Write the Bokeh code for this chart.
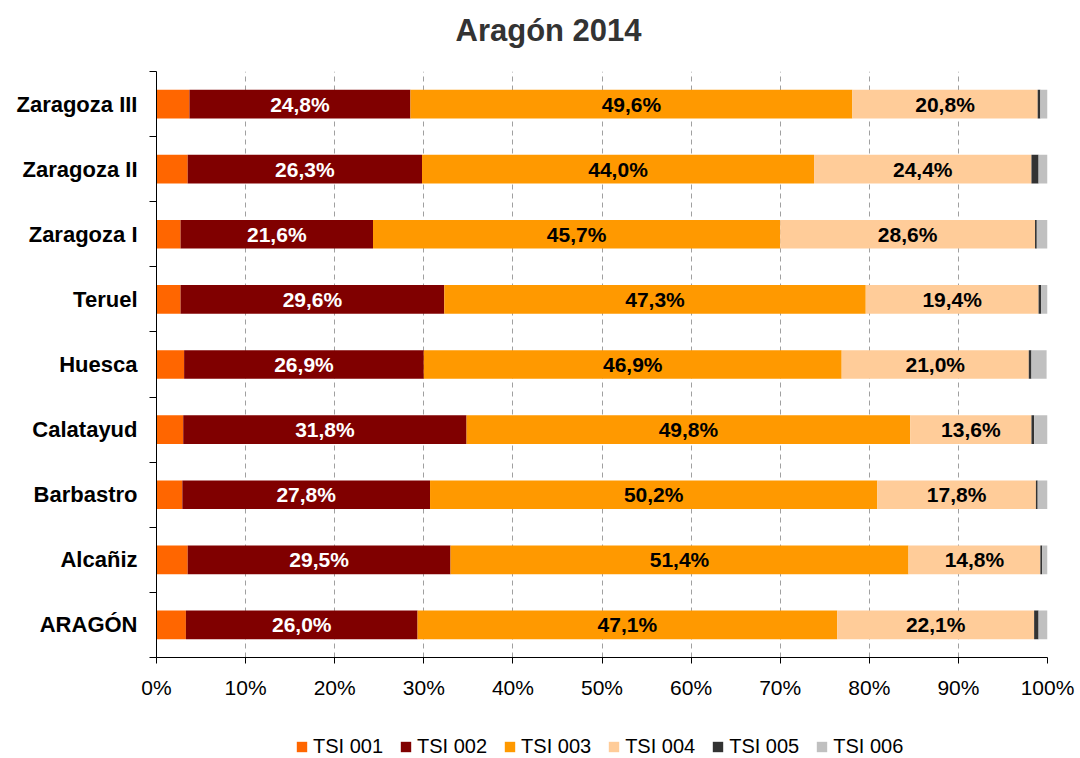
from bokeh.plotting import figure
from bokeh.layouts import column
from bokeh.models import (FixedTicker, PrintfTickFormatter, Legend, LegendItem,
                          ColumnDataSource, Range1d, Title)
from bokeh.embed import file_html
from bokeh.resources import INLINE
from bokeh.core.properties import value

regions = ["Zaragoza III", "Zaragoza II", "Zaragoza I", "Teruel", "Huesca",
           "Calatayud", "Barbastro", "Alcañiz", "ARAGÓN"]
tsi001 = [3.7, 3.5, 2.7, 2.7, 3.1, 3.0, 2.9, 3.5, 3.3]
tsi002 = [24.8, 26.3, 21.6, 29.6, 26.9, 31.8, 27.8, 29.5, 26.0]
tsi003 = [49.6, 44.0, 45.7, 47.3, 46.9, 49.8, 50.2, 51.4, 47.1]
tsi004 = [20.8, 24.4, 28.6, 19.4, 21.0, 13.6, 17.8, 14.8, 22.1]
tsi005 = [0.3, 0.8, 0.2, 0.3, 0.3, 0.3, 0.2, 0.2, 0.5]
tsi006 = [0.8, 1.0, 1.2, 0.7, 1.7, 1.5, 1.1, 0.6, 1.0]
series_names = ["TSI 001", "TSI 002", "TSI 003", "TSI 004", "TSI 005", "TSI 006"]
colors = ["#FF6600", "#800000", "#FF9900", "#FFCC99", "#333333", "#C0C0C0"]
x_ticks = list(range(0, 101, 10))
title_text = "Aragón 2014"

FONT = "Liberation Sans"
n = len(regions)
ys = [n - 1 - i for i in range(n)]
keys = ["s1", "s2", "s3", "s4", "s5", "s6"]
series = [tsi001, tsi002, tsi003, tsi004, tsi005, tsi006]
data = {"y": ys, "name": regions}
for k, s in zip(keys, series):
    data[k] = s


def fmt(v):
    return ("%.1f%%" % v).replace(".", ",")


data["mid2"] = [a + b / 2 for a, b in zip(tsi001, tsi002)]
data["mid3"] = [a + b + c / 2 for a, b, c in zip(tsi001, tsi002, tsi003)]
data["mid4"] = [a + b + c + d / 2 for a, b, c, d in zip(tsi001, tsi002, tsi003, tsi004)]
data["lab2"] = [fmt(v) for v in tsi002]
data["lab3"] = [fmt(v) for v in tsi003]
data["lab4"] = [fmt(v) for v in tsi004]
source = ColumnDataSource(data)

p = figure(frame_width=891, frame_height=586, output_backend="svg", toolbar_location=None,
           x_range=Range1d(0, 100), y_range=Range1d(-0.5, n - 0.5),
           min_border_left=156, min_border_right=33, min_border_top=71,
           min_border_bottom=44)
p.outline_line_color = None
p.background_fill_color = "white"
p.border_fill_color = "white"

renderers = p.hbar_stack(keys, y="y", height=0.44, color=colors, line_color=None,
                         source=source)

for col_x, col_t, tc in [("mid2", "lab2", "white"), ("mid3", "lab3", "black"),
                         ("mid4", "lab4", "black")]:
    p.text(x=col_x, y="y", text=col_t, source=source, text_align="center",
           text_baseline="middle", text_color=tc, text_font=value(FONT),
           text_font_style="bold", text_font_size="21px")

# x axis
p.xaxis.ticker = FixedTicker(ticks=x_ticks)
p.xaxis.formatter = PrintfTickFormatter(format="%d%%")
p.xaxis.major_label_text_font = FONT
p.xaxis.major_label_text_font_size = "21px"
p.xaxis.major_label_text_color = "black"
p.xaxis.major_tick_in = 0
p.xaxis.major_tick_out = 6
p.xaxis.minor_tick_line_color = None
p.xaxis.axis_line_color = "black"
p.xaxis.major_tick_line_color = "black"
p.xaxis.major_label_standoff = 12

p.xgrid.ticker = FixedTicker(ticks=x_ticks)
p.xgrid.grid_line_color = "#a0a0a0"
p.xgrid.grid_line_dash = "5 4"
p.ygrid.grid_line_color = None

# y axis
bounds = [i - 0.5 for i in range(n + 1)]
p.yaxis.ticker = FixedTicker(ticks=ys, minor_ticks=bounds)
p.yaxis.major_label_overrides = {y: name for y, name in zip(ys, regions)}
p.yaxis.major_label_text_font = FONT
p.yaxis.major_label_text_font_style = "bold"
p.yaxis.major_label_text_font_size = "22px"
p.yaxis.major_label_text_color = "black"
p.yaxis.major_tick_line_color = None
p.yaxis.major_tick_in = 0
p.yaxis.major_tick_out = 0
p.yaxis.minor_tick_in = 0
p.yaxis.minor_tick_out = 7
p.yaxis.minor_tick_line_color = "black"
p.yaxis.axis_line_color = "black"
p.yaxis.major_label_standoff = 12

# title (spacer first: the first "above" item sits closest to the frame)
p.add_layout(Title(text=" ", text_font_size="1px", standoff=20), "above")
p.add_layout(Title(text=title_text, align="left", offset=299, vertical_align="middle",
                   standoff=0, text_font=FONT, text_font_style="bold",
                   text_font_size="31px", text_color="#333333"), "above")

# legend strip: a second, axis-less figure sharing the same data; its y range
# lies beyond the categories, so its stacked bars stay out of view and only
# the legend swatches show
p2 = figure(width=1080, height=57, output_backend="svg", toolbar_location=None,
            x_axis_type=None, y_axis_type=None, x_range=Range1d(0, 100),
            y_range=Range1d(n, n + 1), min_border=0)
p2.outline_line_color = None
p2.border_fill_color = "white"
p2.background_fill_color = "white"
swatches = p2.hbar_stack(keys, y="y", height=0.44, color=colors, line_color=None,
                         source=source)
items = [LegendItem(label=nm, renderers=[r]) for nm, r in zip(series_names, swatches)]
legend = Legend(items=items, orientation="horizontal", location=(139, 0),
                glyph_width=13, glyph_height=13, label_standoff=5, spacing=16,
                padding=0, margin=0, border_line_color=None,
                background_fill_alpha=0, label_text_font=FONT,
                label_text_font_size="20px", label_text_color="black")
p2.add_layout(legend, "center")

open("out.html", "w").write(file_html(column(p, p2, spacing=0), INLINE))
